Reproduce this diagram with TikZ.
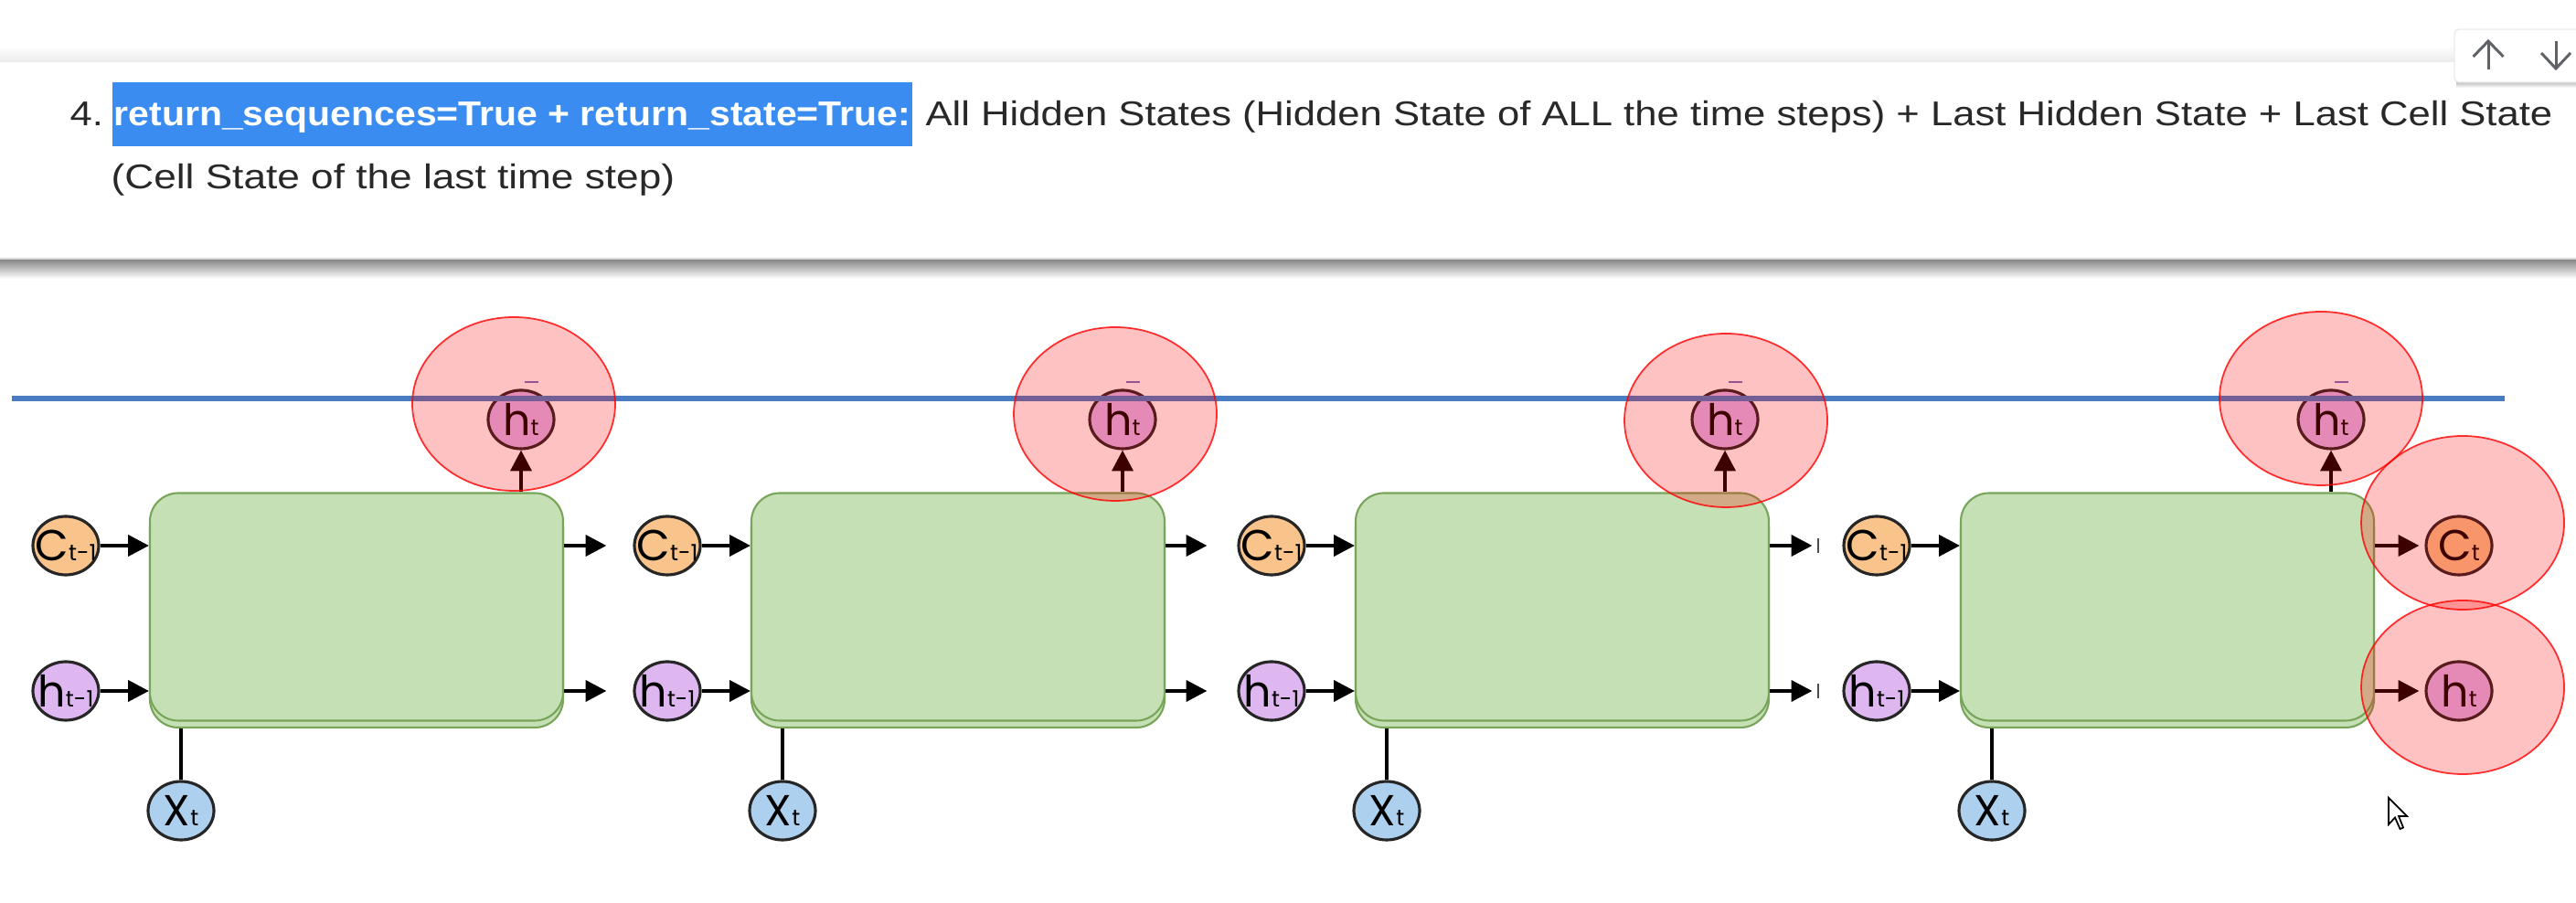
\documentclass[tikz,border=0pt]{standalone}
\usepackage{fontspec}
\usepackage{graphicx}
\usepackage{xcolor}
\setmainfont{Liberation Sans}
\newfontfamily\lblfont{Poppins}
\usetikzlibrary{arrows.meta,shapes.geometric,calc}

\definecolor{cellgreen}{RGB}{197,224,180}
\definecolor{cellline}{RGB}{120,165,90}
\definecolor{corange}{RGB}{248,196,140}
\definecolor{hpurple}{RGB}{222,182,240}
\definecolor{xblue}{RGB}{172,208,238}
\definecolor{seqblue}{RGB}{72,125,196}
\definecolor{hlblue}{RGB}{58,140,240}
\definecolor{inkgray}{RGB}{40,40,42}
\definecolor{icongray}{RGB}{95,99,104}

\newcommand{\stlbl}[2]{\makebox[0pt]{#1{\fontsize{7}{7}\selectfont #2}}}

\tikzset{
 txt/.style={font=\fontsize{10.7}{12}\selectfont, text=inkgray, inner sep=0pt, anchor=base west},
 cell/.style={draw=cellline, fill=cellgreen, line width=0.6pt, rounded corners=0.31cm, minimum width=4.52cm, minimum height=2.49cm},
 state/.style={ellipse, draw=black!85, line width=0.9pt, minimum width=0.72cm, minimum height=0.64cm, inner sep=0pt, font=\lblfont\fontsize{13.5}{14}\selectfont},
 arr/.style={line width=1.2pt, -{Triangle[length=6.5pt,width=6.5pt]}},
 spot/.style={draw=red, draw opacity=0.8, line width=0.5pt, fill=red, fill opacity=0.24},
}

\begin{document}
\begin{tikzpicture}
 \useasboundingbox (0,0) rectangle (28.18,9.88);
 \shade[top color=white, bottom color=black!8] (0,9.20) rectangle (28.18,9.38);
 \shade[top color=black!45, bottom color=white] (0,6.83) rectangle (28.18,7.03);
 \draw[black!15, line width=0.4pt] (0,7.05) -- (28.18,7.05);
 \shade[top color=black!25, bottom color=white] (26.87,8.92) rectangle (28.18,8.98);
 \filldraw[fill=white, draw=black!8, rounded corners=0.05cm] (26.85,8.98) rectangle (28.40,9.56);
 \draw[icongray, line width=0.85pt] (27.22,9.12) -- (27.22,9.43);
 \draw[icongray, line width=0.85pt] (27.055,9.26) -- (27.22,9.43) -- (27.385,9.26);
 \draw[icongray, line width=0.85pt] (27.96,9.43) -- (27.96,9.13);
 \draw[icongray, line width=0.85pt] (27.80,9.30) -- (27.96,9.13) -- (28.12,9.30);

 \node[txt] (num) at (0.76,8.50) {\scalebox{1.16}[1]{4.}};
 \node[txt, fill=hlblue, text=white, inner xsep=0.02cm, text height=0.48cm, text depth=0.22cm] (key) at (1.22,8.50) {\scalebox{1.09}[1]{\bfseries return\_sequences=True + return\_state=True:}};
 \node[txt, xshift=0.13cm] (rest) at (key.base east) {\scalebox{1.16}[1]{All Hidden States (Hidden State of ALL the time steps) + Last Hidden State + Last Cell State}};
 \node[txt] (rest2) at (1.21,7.81) {\scalebox{1.175}[1]{(Cell State of the last time step)}};

 \node[cell] (cellb1) at (3.90,3.165) {};
 \node[cell] (cell1) at (3.90,3.24) {};
 \node[cell] (cellb2) at (10.48,3.165) {};
 \node[cell] (cell2) at (10.48,3.24) {};
 \node[cell] (cellb3) at (17.09,3.165) {};
 \node[cell] (cell3) at (17.09,3.24) {};
 \node[cell] (cellb4) at (23.71,3.165) {};
 \node[cell] (cell4) at (23.71,3.24) {};

 \node[state, fill=corange] (c1) at (0.72,3.91) {\stlbl{C}{t-1}};
 \node[state, fill=hpurple] (h1) at (0.72,2.32) {\stlbl{h}{t-1}};
 \node[state, fill=xblue] (x1) at (1.98,1.01) {\stlbl{X}{t}};
 \node[state, fill=hpurple] (o1) at (5.70,5.29) {\stlbl{h}{t}};
 \node[state, fill=corange] (c2) at (7.30,3.91) {\stlbl{C}{t-1}};
 \node[state, fill=hpurple] (h2) at (7.30,2.32) {\stlbl{h}{t-1}};
 \node[state, fill=xblue] (x2) at (8.56,1.01) {\stlbl{X}{t}};
 \node[state, fill=hpurple] (o2) at (12.28,5.29) {\stlbl{h}{t}};
 \node[state, fill=corange] (c3) at (13.91,3.91) {\stlbl{C}{t-1}};
 \node[state, fill=hpurple] (h3) at (13.91,2.32) {\stlbl{h}{t-1}};
 \node[state, fill=xblue] (x3) at (15.17,1.01) {\stlbl{X}{t}};
 \node[state, fill=hpurple] (o3) at (18.87,5.29) {\stlbl{h}{t}};
 \node[state, fill=corange] (c4) at (20.53,3.91) {\stlbl{C}{t-1}};
 \node[state, fill=hpurple] (h4) at (20.53,2.32) {\stlbl{h}{t-1}};
 \node[state, fill=xblue] (x4) at (21.79,1.01) {\stlbl{X}{t}};
 \node[state, fill=hpurple] (o4) at (25.50,5.29) {\stlbl{h}{t}};
 \node[state, fill=corange] (ct) at (26.90,3.91) {\stlbl{C}{t}};
 \node[state, fill=hpurple] (ht) at (26.90,2.32) {\stlbl{h}{t}};

 \draw[arr] (c1) -- (c1 -| cell1.west);
 \draw[arr] (h1) -- (h1 -| cell1.west);
 \draw[arr] (c2) -- (c2 -| cell2.west);
 \draw[arr] (h2) -- (h2 -| cell2.west);
 \draw[arr] (c3) -- (c3 -| cell3.west);
 \draw[arr] (h3) -- (h3 -| cell3.west);
 \draw[arr] (c4) -- (c4 -| cell4.west);
 \draw[arr] (h4) -- (h4 -| cell4.west);
 \draw[arr, shorten >=0.29cm] (c2 -| cell1.east) -- (c2);
 \draw[arr, shorten >=0.29cm] (h2 -| cell1.east) -- (h2);
 \draw[arr, shorten >=0.33cm] (c3 -| cell2.east) -- (c3);
 \draw[arr, shorten >=0.33cm] (h3 -| cell2.east) -- (h3);
 \draw[arr, shorten >=0.33cm] (c4 -| cell3.east) -- (c4);
 \draw[arr, shorten >=0.33cm] (h4 -| cell3.east) -- (h4);
 \draw[arr, shorten >=0.06cm] (ct -| cell4.east) -- (ct);
 \draw[arr, shorten >=0.06cm] (ht -| cell4.east) -- (ht);
 \draw[black!70, line width=0.6pt] ($(c4)+(-0.64,-0.08)$) -- ++(0,0.16);
 \draw[black!70, line width=0.6pt] ($(h4)+(-0.64,-0.08)$) -- ++(0,0.16);
 \draw[arr] (cell1.north -| o1) -- (o1);
 \draw[arr] (cell2.north -| o2) -- (o2);
 \draw[arr] (cell3.north -| o3) -- (o3);
 \draw[arr] (cell4.north -| o4) -- (o4);
 \draw[line width=1.2pt] (x1) -- (x1 |- cellb1.south);
 \draw[line width=1.2pt] (x2) -- (x2 |- cellb2.south);
 \draw[line width=1.2pt] (x3) -- (x3 |- cellb3.south);
 \draw[line width=1.2pt] (x4) -- (x4 |- cellb4.south);

 \draw[seqblue, line width=1.45pt] (0.13,5.52) -- (27.40,5.52);
 \draw[black!45!blue!55, line width=0.7pt] ($(o1)+(0.04,0.41)$) -- ++(0.15,0);
 \draw[black!45!blue!55, line width=0.7pt] ($(o2)+(0.04,0.41)$) -- ++(0.15,0);
 \draw[black!45!blue!55, line width=0.7pt] ($(o3)+(0.04,0.41)$) -- ++(0.15,0);
 \draw[black!45!blue!55, line width=0.7pt] ($(o4)+(0.04,0.41)$) -- ++(0.15,0);

 \draw[spot] (5.62,5.46) ellipse [x radius=1.11, y radius=0.95];
 \draw[spot] (12.20,5.35) ellipse [x radius=1.11, y radius=0.95];
 \draw[spot] (18.88,5.28) ellipse [x radius=1.11, y radius=0.95];
 \draw[spot] (25.39,5.52) ellipse [x radius=1.11, y radius=0.95];
 \draw[spot] (26.94,4.16) ellipse [x radius=1.11, y radius=0.95];
 \draw[spot] (26.94,2.36) ellipse [x radius=1.11, y radius=0.95];

 \filldraw[fill=white, draw=black, line width=0.5pt] (26.13,1.15) -- ++(0,-0.29) -- ++(0.07,0.075) -- ++(0.055,-0.125) -- ++(0.035,0.015) -- ++(-0.05,0.125) -- ++(0.09,0) -- cycle;
\end{tikzpicture}
\end{document}
